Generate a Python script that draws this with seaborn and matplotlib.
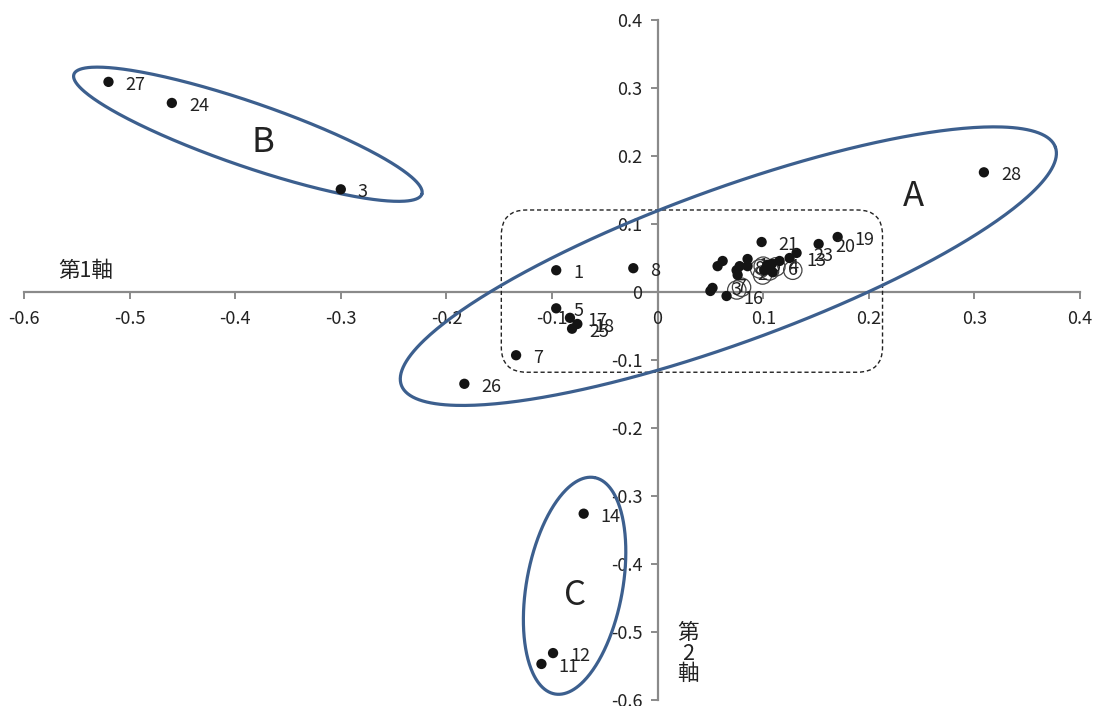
import numpy as np
import pandas as pd
import matplotlib.pyplot as plt
import seaborn as sns
from matplotlib.patches import FancyBboxPatch

# scores of the samples (filled dots)
labels = ["27", "24", "3", "28", "1", "8", "5", "17", "18", "25", "7", "26",
          "14", "12", "11", "21", "20", "19", "16", "23", "13", "4",
          "", "", "", "", "", "", "", "", "", "", "", "", ""]
axis1 = [-0.520, -0.460, -0.300, 0.309, -0.096, -0.023, -0.096, -0.083, -0.076, -0.081, -0.134, -0.183,
         -0.070, -0.099, -0.110, 0.0985, 0.1525, 0.1705, 0.0653, 0.1316, 0.125, 0.108,
         0.1155, 0.0852, 0.0852, 0.0777, 0.0748, 0.0616, 0.0568, 0.0758, 0.052, 0.050, 0.101, 0.104, 0.109]
axis2 = [0.309, 0.278, 0.151, 0.176, 0.032, 0.035, -0.024, -0.038, -0.047, -0.054, -0.093, -0.135,
         -0.326, -0.531, -0.547, 0.0735, 0.0706, 0.0809, -0.0059, 0.0574, 0.050, 0.041,
         0.0456, 0.0485, 0.038, 0.038, 0.032, 0.0456, 0.038, 0.025, 0.006, 0.0015, 0.032, 0.040, 0.029]

# second series (open circles, label inside)
var_labels = ["3", "7", "1", "2", "4", "5", "6", "8"]
var_axis1 = [0.075, 0.0795, 0.100, 0.0994, 0.106, 0.112, 0.128, 0.0966]
var_axis2 = [0.003, 0.007, 0.038, 0.025, 0.031, 0.037, 0.032, 0.034]

# groups: name, label position, ellipse centre, semi axes (px), angle (deg on screen)
groups = ["A", "B", "C"]
group_text_x = [0.242, -0.374, -0.078]
group_text_y = [0.141, 0.220, -0.447]
ell_cx = [0.067, -0.388, -0.0786]
ell_cy = [0.038, 0.232, -0.432]
ell_a = [348, 184, 110]
ell_b = [77, 32, 48]
ell_ang = [20, -19, 79.6]

xticks = [-0.6, -0.5, -0.4, -0.3, -0.2, -0.1, 0, 0.1, 0.2, 0.3, 0.4]
yticks = [-0.6, -0.5, -0.4, -0.3, -0.2, -0.1, 0, 0.1, 0.2, 0.3, 0.4]

sns.set_theme(style="white")
plt.rcParams['font.family'] = ['Noto Sans CJK JP', 'DejaVu Sans']

txt = "#222222"
df = pd.DataFrame({"axis1": axis1, "axis2": axis2, "label": labels})
dv = pd.DataFrame({"axis1": var_axis1, "axis2": var_axis2, "label": var_labels})

fig = plt.figure(figsize=(10.94, 7.06), dpi=100)
ax = fig.add_axes([24 / 1094, 6 / 706, 1056 / 1094, 680 / 706])
ax.set_xlim(-0.6, 0.4)
ax.set_ylim(-0.6, 0.4)

sns.scatterplot(data=dv, x="axis1", y="axis2", s=175, color="#444444", linewidth=0.9,
                legend=False, ax=ax, zorder=3)
coll = ax.collections[-1]
coll.set_facecolor("none")
coll.set_edgecolor("#444444")
for _, r in dv.iterrows():
    ax.text(r.axis1, r.axis2, r.label, ha="center", va="center", fontsize=13,
            color=txt, zorder=4)

sns.scatterplot(data=df, x="axis1", y="axis2", s=55, color="#141414", edgecolor="none",
                legend=False, ax=ax, zorder=5)
for _, r in df.iterrows():
    if r.label:
        ax.annotate(r.label, (r.axis1, r.axis2), xytext=(17, -3), textcoords="offset pixels",
                    ha="left", va="center", fontsize=13, color=txt, zorder=6)

# ellipses drawn in screen proportions
px_x = 1056 / 1.0
px_y = 680 / 1.0
t = np.linspace(0, 2 * np.pi, 400)
for cx, cy, a, b, ang in zip(ell_cx, ell_cy, ell_a, ell_b, ell_ang):
    th = np.radians(ang)
    u, v = a * np.cos(t), b * np.sin(t)
    ax.plot(cx + (u * np.cos(th) - v * np.sin(th)) / px_x,
            cy + (u * np.sin(th) + v * np.cos(th)) / px_y,
            color="#3c5f8e", lw=2.3, zorder=2)

for g, gx, gy in zip(groups, group_text_x, group_text_y):
    ax.text(gx, gy, g, ha="center", va="center", fontsize=25, color=txt)

# dashed rounded box around the central cluster
box = FancyBboxPatch((-0.148, -0.118), 0.361, 0.2386,
                     boxstyle="round,pad=0,rounding_size=0.024", mutation_aspect=1.55,
                     fill=False, ls=(0, (3, 2)), lw=1.0, ec="#222222", zorder=1)
ax.add_patch(box)

# axes through the origin
for side in ["top", "right"]:
    ax.spines[side].set_visible(False)
for side in ["left", "bottom"]:
    ax.spines[side].set_position(("data", 0))
    ax.spines[side].set_color("#8a8a8a")
    ax.spines[side].set_linewidth(1.6)
    ax.spines[side].set_zorder(0)
ax.set_xticks(xticks)
ax.set_yticks(yticks)
ax.set_xticklabels([f"{v:g}" for v in xticks])
ax.set_yticklabels([f"{v:g}" for v in yticks])
ax.tick_params(axis="both", direction="out", length=5, width=1.4, color="#8a8a8a",
               labelsize=13, labelcolor=txt)
ax.tick_params(axis="x", pad=8, bottom=True)
ax.tick_params(axis="y", pad=6, left=True)
ax.set_xlabel("")
ax.set_ylabel("")

ax.text(-0.542, 0.031, "第1軸", ha="center", va="center", fontsize=15.5, color=txt)
ax.text(0.0284, -0.532, "第\n2\n軸", ha="center", va="center", fontsize=15.5,
        color=txt, linespacing=0.92)

fig.savefig("out.png", dpi=100)
